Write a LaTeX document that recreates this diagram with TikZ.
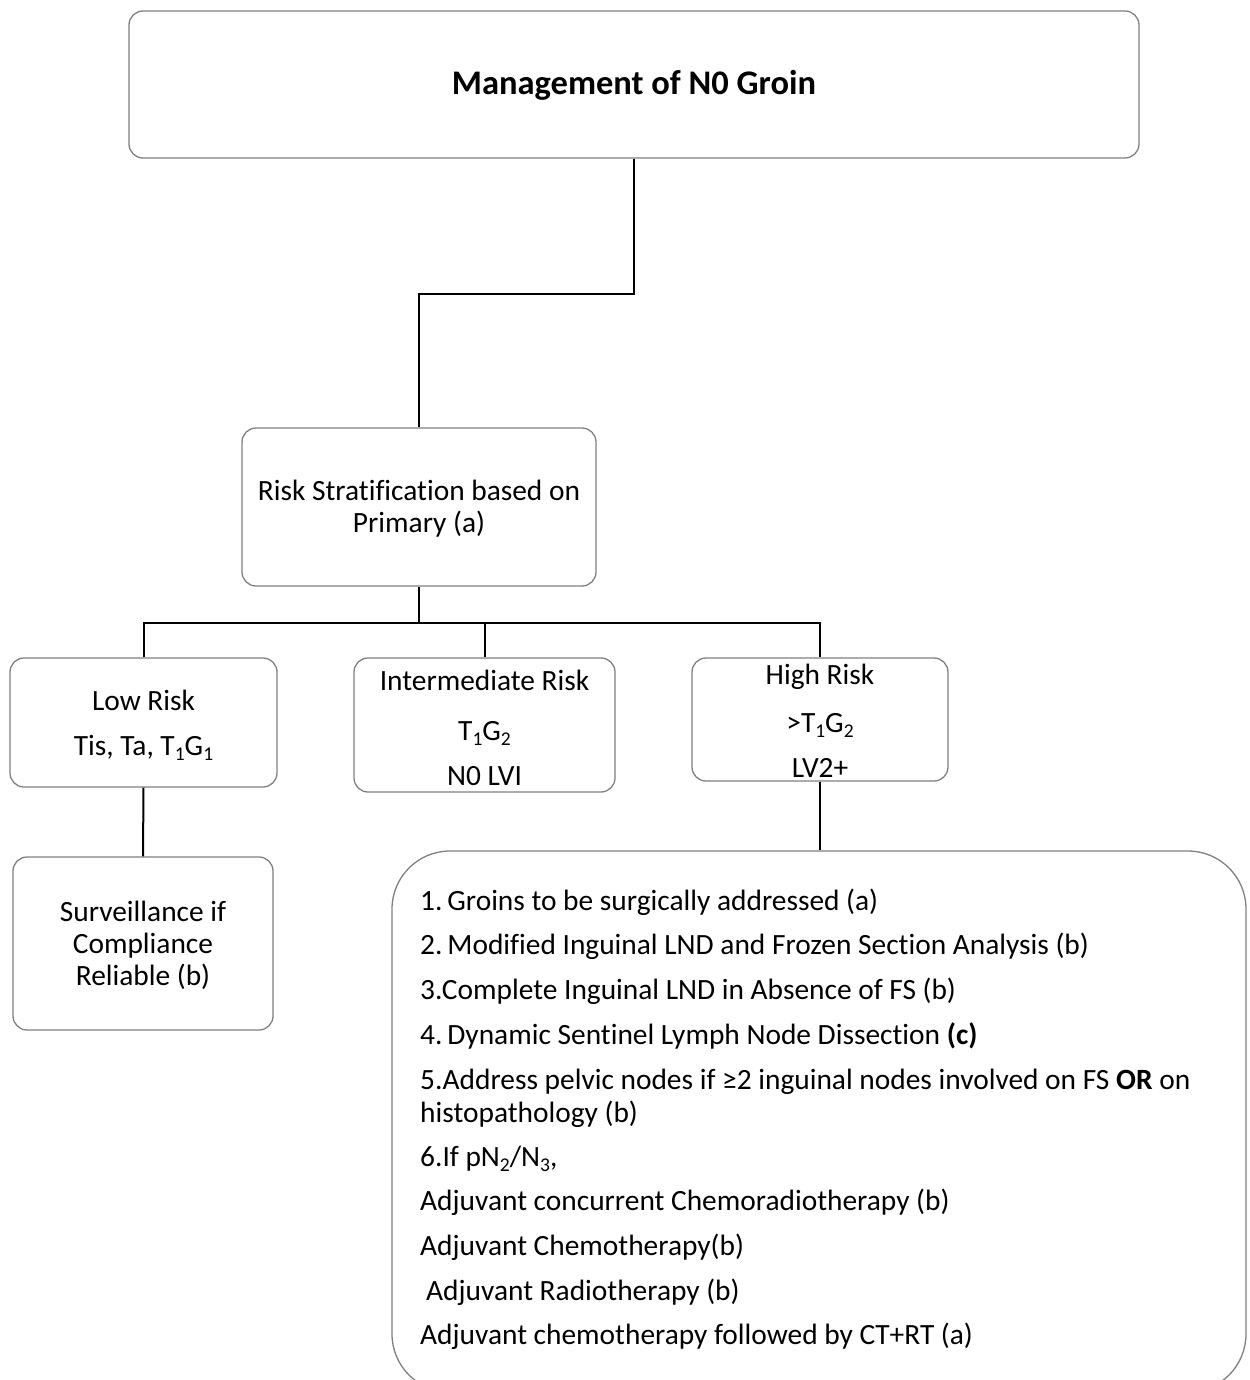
\documentclass[tikz,border=0pt]{standalone}
\usepackage{fontspec}
\setmainfont[Ligatures={NoCommon}]{Carlito}
\definecolor{boxgray}{HTML}{808080}
% lowered subscript digits as set in the flowchart labels
\newcommand{\lowsub}[1]{\raisebox{-0.42ex}{\fontsize{19.5}{20}\selectfont #1}}
\begin{document}
\begin{tikzpicture}[x=1pt,y=-1pt,
  box/.style={draw=boxgray, line width=1.3pt, rounded corners=14pt, inner sep=0pt},
  link/.style={draw=black, line width=2pt},
  txt/.style={font=\fontsize{29.4}{35}\selectfont, inner sep=0pt, anchor=base},
  ltxt/.style={txt, anchor=base west},
  ttxt/.style={font=\bfseries\fontsize{34.5}{40}\selectfont, inner sep=0pt, anchor=base},
  ]
\useasboundingbox (0,0) rectangle (1249,1380);
\clip (0,0) rectangle (1249,1380);

% boxes
\node[box, minimum width=1010pt, minimum height=147pt] (top) at (634,84.5) {};
\node[box, minimum width=354pt, minimum height=158pt] (risk) at (419,507) {};
\node[box, minimum width=267pt, minimum height=129pt] (low) at (143.5,722.5) {};
\node[box, minimum width=261pt, minimum height=134pt] (inter) at (484.5,725) {};
\node[box, minimum width=256pt, minimum height=123pt] (high) at (820,719.5) {};
\node[box, minimum width=260pt, minimum height=173pt] (surv) at (143,943.5) {};
\node[box, rounded corners=58pt, minimum width=854pt, minimum height=541pt] (big) at (819,1121.5) {};

% connectors
\coordinate (bar) at (419,623);
\draw[link] (top.south) -- ++(0,135) -| (risk.north);
\draw[link] (risk.south) -- (bar);
\draw[link] (low.north) -- (low.north |- bar) -| (high.north);
\draw[link] (inter.north) -- (inter.north |- bar);
\draw[link] (low.south) -- (surv.north);
\draw[link] (high.south) -- (high.south |- big.north);

% texts
\node[ttxt] (ttl) at (634,95) {Management of N0 Groin};

\node[txt] (r1) at (419,500) {Risk Stratification based on};
\node[txt] (r2) at (419,532) {Primary (a)};

\node[txt] (lo1) at (143.5,710) {Low Risk};
\node[txt] (lo2) at (143.5,755) {Tis, Ta, T\lowsub{1}G\lowsub{1}};

\node[txt] (in1) at (484.5,690) {Intermediate Risk};
\node[txt] (in2) at (484.5,740) {T\lowsub{1}G\lowsub{2}};
\node[txt] (in3) at (484.5,785) {N0 LVI};

\node[txt] (hi1) at (820,684) {High Risk};
\node[txt] (hi2) at (820,732) {>T\lowsub{1}G\lowsub{2}};
\node[txt] (hi3) at (820,777) {LV2+};

\node[txt] (s1) at (143,921) {Surveillance if};
\node[txt] (s2) at (143,953) {Compliance};
\node[txt] (s3) at (143,985) {Reliable (b)};

\node[ltxt] (b1) at (420,910) {1.\,Groins to be surgically addressed (a)};
\node[ltxt] (b2) at (420,954) {2.\,Modified Inguinal LND and Frozen Section Analysis (b)};
\node[ltxt] (b3) at (420,999) {3.Complete Inguinal LND in Absence of FS (b)};
\node[ltxt] (b4) at (420,1044) {4.\,Dynamic Sentinel Lymph Node Dissection \textbf{(c)}};
\node[ltxt] (b5) at (420,1089) {5.Address pelvic nodes if ≥2 inguinal nodes involved on FS \textbf{OR} on};
\node[ltxt] (b6) at (420,1122) {histopathology (b)};
\node[ltxt] (b7) at (420,1166) {6.If pN\lowsub{2}/N\lowsub{3},};
\node[ltxt] (b8) at (420,1210) {Adjuvant concurrent Chemoradiotherapy (b)};
\node[ltxt] (b9) at (420,1255) {Adjuvant Chemotherapy(b)};
\node[ltxt] (b10) at (426,1300) {Adjuvant Radiotherapy (b)};
\node[ltxt] (b11) at (420,1344) {Adjuvant chemotherapy followed by CT+RT (a)};
\end{tikzpicture}
\end{document}
